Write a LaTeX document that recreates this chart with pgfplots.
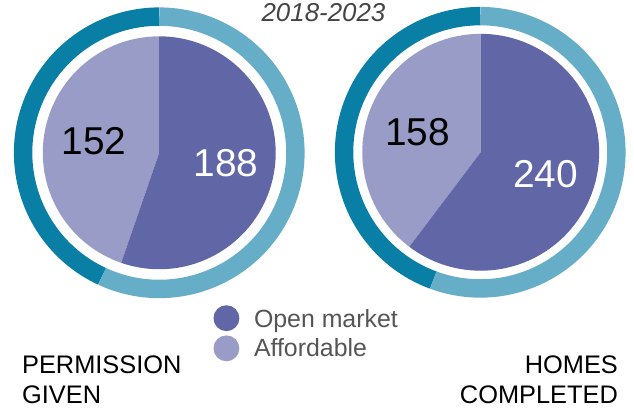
\documentclass[border=0pt]{standalone}
\usepackage{pgfplots}
\usepackage{pgfplotstable}
\pgfplotsset{compat=1.18}
\usepackage{fontspec}
\setmainfont{Liberation Sans}
\definecolor{openc}{HTML}{6166A6}
\definecolor{affc}{HTML}{9A9CC8}
\definecolor{ringdark}{HTML}{0A7FA6}
\definecolor{ringlight}{HTML}{66ADC8}
\definecolor{txtgray}{HTML}{555555}

\pgfplotstableread{
name open afford ringopen ringafford
permission 188 152 56.9 43.1
homes 240 158 55.6 44.4
}\piedata

\begin{document}
\begin{tikzpicture}
\pgfplotstablegetelem{0}{open}\of\piedata \let\Lopen\pgfplotsretval
\pgfplotstablegetelem{0}{afford}\of\piedata \let\Laff\pgfplotsretval
\pgfplotstablegetelem{0}{ringopen}\of\piedata \let\LRopen\pgfplotsretval
\pgfplotstablegetelem{0}{ringafford}\of\piedata \let\LRaff\pgfplotsretval
\pgfplotstablegetelem{1}{open}\of\piedata \let\Ropen\pgfplotsretval
\pgfplotstablegetelem{1}{afford}\of\piedata \let\Raff\pgfplotsretval
\pgfplotstablegetelem{1}{ringopen}\of\piedata \let\RRopen\pgfplotsretval
\pgfplotstablegetelem{1}{ringafford}\of\piedata \let\RRaff\pgfplotsretval
\pgfmathsetmacro{\La}{90+360*(\Laff/(\Laff+\Lopen))}
\pgfmathsetmacro{\LRa}{90+360*(\LRaff/(\LRaff+\LRopen))}
\pgfmathsetmacro{\Ra}{90+360*(\Raff/(\Raff+\Ropen))}
\pgfmathsetmacro{\RRa}{90+360*(\RRaff/(\RRaff+\RRopen))}
\begin{axis}[x=1pt,y=1pt,xmin=0,xmax=634,ymin=0,ymax=409,
  hide axis, clip=false, scale only axis]
\path (axis cs:0,0) rectangle (axis cs:634,409);
% left ring
\draw[ringdark, line width=18.5pt] (axis cs:160,255.5) ++(90:136.8) arc[start angle=90, end angle=\LRa, radius=136.8];
\draw[ringlight, line width=18.5pt] (axis cs:160,255.5) ++(\LRa:136.8) arc[start angle=\LRa, end angle=450, radius=136.8];
% left pie
\fill[affc] (axis cs:160,255.5) -- ++(90:117) arc[start angle=90, end angle=\La, radius=117] -- cycle;
\fill[openc] (axis cs:160,255.5) -- ++(\La:117) arc[start angle=\La, end angle=450, radius=117] -- cycle;
% right ring
\draw[ringdark, line width=18.5pt] (axis cs:482.5,256) ++(90:136.8) arc[start angle=90, end angle=\RRa, radius=136.8];
\draw[ringlight, line width=18.5pt] (axis cs:482.5,256) ++(\RRa:136.8) arc[start angle=\RRa, end angle=450, radius=136.8];
% right pie
\fill[affc] (axis cs:483,256) -- ++(90:119) arc[start angle=90, end angle=\Ra, radius=119] -- cycle;
\fill[openc] (axis cs:483,256) -- ++(\Ra:119) arc[start angle=\Ra, end angle=450, radius=119] -- cycle;
% values
\node[black, font=\fontsize{39}{40}\selectfont] at (axis cs:94.5,267) {\Laff};
\node[white, font=\fontsize{39}{40}\selectfont] at (axis cs:227,245) {\Lopen};
\node[black, font=\fontsize{39}{40}\selectfont] at (axis cs:419.5,276.5) {\Raff};
\node[white, font=\fontsize{39}{40}\selectfont] at (axis cs:548,234) {\Ropen};
% title
\node[anchor=base, txtgray!80!black, font=\fontsize{26}{28}\selectfont\itshape, inner sep=0pt] at (axis cs:325,387) {2018-2023};
% legend
\fill[openc] (axis cs:227.5,89.3) circle[radius=13];
\fill[affc] (axis cs:227.5,59) circle[radius=13];
\node[anchor=base west, txtgray, font=\fontsize{25}{28}\selectfont, inner sep=0pt] at (axis cs:255,79.7) {Open market};
\node[anchor=base west, txtgray, font=\fontsize{25}{28}\selectfont, inner sep=0pt] at (axis cs:255,50.7) {Affordable};
% labels
\node[anchor=base west, black, font=\fontsize{25.5}{28}\selectfont, inner sep=0pt] at (axis cs:22,34) {PERMISSION};
\node[anchor=base west, black, font=\fontsize{25.5}{28}\selectfont, inner sep=0pt] at (axis cs:22,4) {GIVEN};
\node[anchor=base east, black, font=\fontsize{25.5}{28}\selectfont, inner sep=0pt] at (axis cs:621,34) {HOMES};
\node[anchor=base east, black, font=\fontsize{25.5}{28}\selectfont, inner sep=0pt] at (axis cs:621,4) {COMPLETED};
\end{axis}
\end{tikzpicture}
\end{document}
